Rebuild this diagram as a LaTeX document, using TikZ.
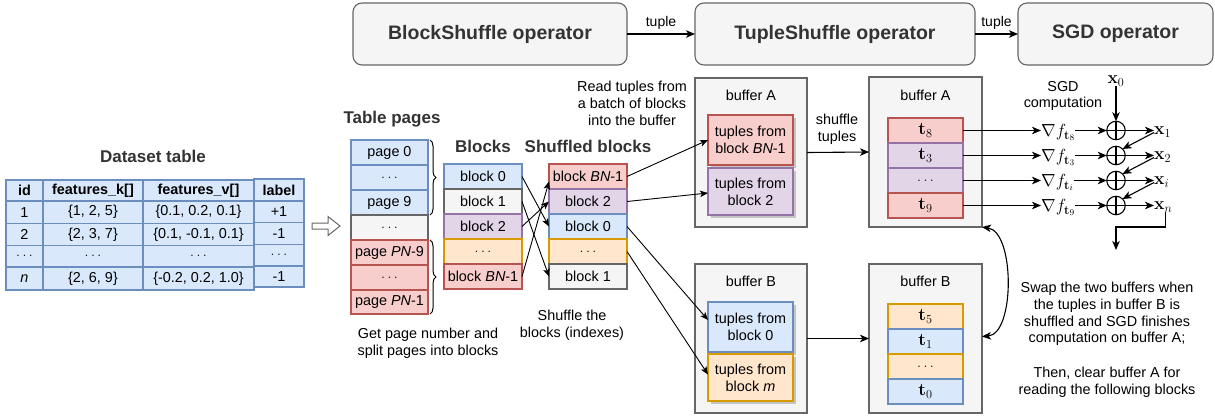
\documentclass[tikz,border=0pt]{standalone}
\usepackage{fix-cm}
\usepackage[no-math]{fontspec}
\setmainfont{Liberation Sans}
\usetikzlibrary{arrows.meta,shadows,decorations.pathreplacing}
\definecolor{bF}{HTML}{DAE8FC}\definecolor{bD}{HTML}{6C8EBF}
\definecolor{gF}{HTML}{F5F5F5}\definecolor{gD}{HTML}{666666}
\definecolor{pF}{HTML}{E1D5E7}\definecolor{pD}{HTML}{9673A6}
\definecolor{oF}{HTML}{FFE6CC}\definecolor{oD}{HTML}{D79B00}
\definecolor{rF}{HTML}{F8CECC}\definecolor{rD}{HTML}{B85450}
\definecolor{tx}{HTML}{333333}
\newcommand{\bx}[7]{\node[#6, minimum width={(#4)-(#2)}, minimum height={(#5)-(#3)}] (#1) at ({((#2)+(#4))/2},{((#3)+(#5))/2}) {#7};}
\newcommand{\dd}{$\ldots$}
\newcommand{\mm}[1]{{\fontsize{17.5}{20}\selectfont$#1$}}
\tikzset{
 cell/.style={draw, line width=1.1pt, inner sep=0pt, outer sep=0pt, align=center},
 cB/.style={cell, fill=bF, draw=bD},
 cG/.style={cell, fill=gF, draw=gD},
 cP/.style={cell, fill=pF, draw=pD},
 cO/.style={cell, fill=oF, draw=oD},
 cR/.style={cell, fill=rF, draw=rD},
 sh/.style={drop shadow={shadow xshift=2.5pt,shadow yshift=-2.5pt,fill=black,opacity=0.2}},
 op/.style={cell, rounded corners=9pt, fill=gF, draw=gD, text=tx, font=\fontsize{19.5}{22}\selectfont\bfseries},
 title/.style={text=tx, font=\fontsize{17}{20}\selectfont\bfseries, inner sep=0pt},
 note/.style={align=center, font=\fontsize{14.4}{16.8}\selectfont, inner sep=0pt},
 arr/.style={line width=1.1pt, -{Stealth[length=9pt,width=7.5pt,inset=2.5pt]}},
 tarr/.style={line width=0.9pt, -{Stealth[length=8pt,width=6.5pt,inset=2pt]}},
 darr/.style={line width=1.1pt, {Stealth[length=9pt,width=7.5pt,inset=2.5pt]}-{Stealth[length=9pt,width=7.5pt,inset=2.5pt]}},
 oplus/.style={circle, draw, line width=1.1pt, minimum size=18.5pt, inner sep=0pt, outer sep=0pt,
   path picture={\draw[line width=1.1pt] (path picture bounding box.north) -- (path picture bounding box.south)
   (path picture bounding box.west) -- (path picture bounding box.east);}},
 mlab/.style={inner sep=0pt, anchor=base west, font=\fontsize{17.5}{20}\selectfont},
}
\begin{document}
\begin{tikzpicture}[x=1pt,y=-1pt, font=\fontsize{14.4}{17}\selectfont]
\useasboundingbox (0,0) rectangle (1215,416);

% ---------- operators ----------
\bx{op1}{353}{3}{627}{65}{op}{BlockShuffle operator}
\bx{op2}{695}{3}{975}{65}{op}{TupleShuffle operator}
\bx{op3}{1018}{3}{1213}{65}{op}{SGD operator}
\draw[arr] (op1.east) -- node[above, inner sep=4pt, font=\fontsize{14}{16}\selectfont] {tuple} (op2.west);
\draw[arr] (op2.east) -- node[above, inner sep=4pt, font=\fontsize{14}{16}\selectfont] {tuple} (op3.west);

% ---------- dataset table ----------
\node[title] (dtitle) at (153,156) {Dataset table};
\bx{t00}{6}{180}{43}{201}{cB}{\bfseries id}
\bx{t01}{43}{180}{143}{201}{cB}{\bfseries features\_k[]}
\bx{t02}{143}{180}{254}{201}{cB}{\bfseries features\_v[]}
\bx{t10}{6}{201}{43}{223.5}{cB}{1}
\bx{t11}{43}{201}{143}{223.5}{cB}{\{1, 2, 5\}}
\bx{t12}{143}{201}{254}{223.5}{cB}{\{0.1, 0.2, 0.1\}}
\bx{t20}{6}{223.5}{43}{245.5}{cB}{2}
\bx{t21}{43}{223.5}{143}{245.5}{cB}{\{2, 3, 7\}}
\bx{t22}{143}{223.5}{254}{245.5}{cB}{\{0.1, -0.1, 0.1\}}
\bx{t30}{6}{245.5}{43}{267}{cB}{\dd}
\bx{t31}{43}{245.5}{143}{267}{cB}{\dd}
\bx{t32}{143}{245.5}{254}{267}{cB}{\dd}
\bx{t40}{6}{267}{43}{290}{cB}{\textit{n}}
\bx{t41}{43}{267}{143}{290}{cB}{\{2, 6, 9\}}
\bx{t42}{143}{267}{254}{290}{cB}{\{-0.2, 0.2, 1.0\}}
\bx{l0}{254}{179}{304}{201}{cB}{\bfseries label}
\bx{l1}{254}{201}{304}{222.5}{cB}{+1}
\bx{l2}{254}{222.5}{304}{244.5}{cB}{-1}
\bx{l3}{254}{244.5}{304}{266}{cB}{\dd}
\bx{l4}{254}{266}{304}{287}{cB}{-1}

% hollow arrow
\draw[draw=gD, fill=white, line width=1pt] (312,223) -- (328,223) -- (328,216.5) -- (340,226) -- (328,235.5) -- (328,229) -- (312,229) -- cycle;

% ---------- table pages ----------
\node[title] (ptitle) at (392,119) {Table pages};
\bx{p0}{351}{140}{428}{165}{cB}{page 0}
\bx{p1}{351}{165}{428}{190}{cB}{\dd}
\bx{p2}{351}{190}{428}{215}{cB}{page 9}
\bx{p3}{351}{215}{428}{240}{cG}{\dd}
\bx{p4}{351}{240}{428}{265}{cR}{page \textit{PN}-9}
\bx{p5}{351}{265}{428}{290}{cR}{\dd}
\bx{p6}{351}{290}{428}{314}{cR}{page \textit{PN}-1}
\draw[decorate, decoration={brace, amplitude=6pt}, line width=1pt] ([xshift=2pt]p0.north east) -- ([xshift=2pt]p2.south east);
\draw[decorate, decoration={brace, amplitude=6pt}, line width=1pt] ([xshift=2pt]p4.north east) -- ([xshift=2pt]p6.south east);
\node[note] (pnote) at (428,343) {Get page number and\\split pages into blocks};

% ---------- blocks ----------
\node[title] (btitle) at (483,146) {Blocks};
\bx{b0}{444}{164}{522}{189}{cB}{block 0}
\bx{b1}{444}{189}{522}{214}{cG}{block 1}
\bx{b2}{444}{214}{522}{239}{cP}{block 2}
\bx{b3}{444}{239}{522}{264}{cO}{\dd}
\bx{b4}{444}{264}{522}{289}{cR}{block \textit{BN}-1}

% ---------- shuffled blocks ----------
\node[title] (stitle) at (588,146) {Shuffled blocks};
\bx{s0}{549}{164}{627}{189}{cR}{block \textit{BN}-1}
\bx{s1}{549}{189}{627}{214}{cP}{block 2}
\bx{s2}{549}{214}{627}{239}{cB}{block 0}
\bx{s3}{549}{239}{627}{264}{cO}{\dd}
\bx{s4}{549}{264}{627}{289}{cG}{block 1}
\node[note] (snote) at (572,325) {Shuffle the\\blocks (indexes)};

\draw[tarr] (b0.east) -- (s2.west);
\draw[tarr] (b1.east) -- (s4.west);
\draw[tarr] (b2.east) -- (s1.west);
\draw[tarr] (b4.east) -- ([yshift=-5pt]s0.west);

% ---------- buffer A (read) ----------
\node[note] (rnote) at (632,103.5) {Read tuples from\\a batch of blocks\\into the buffer};
\bx{A1}{695}{78}{807}{227}{cG}{}
\node (A1t) at (751,95) {buffer A};
\bx{A1a}{708}{115}{793}{165}{cR,sh}{tuples from\\block \textit{BN}-1}
\bx{A1b}{708}{168}{793}{215}{cP,sh}{tuples from\\block 2}
\draw[tarr] (s0.east) -- (A1a.west);
\draw[tarr] (s1.east) -- ([yshift=-1.5pt]A1b.west);

% ---------- buffer B (read) ----------
\bx{B1}{695}{264}{807}{413}{cG}{}
\node (B1t) at (751,281) {buffer B};
\bx{B1a}{708}{302}{793}{352}{cB,sh}{tuples from\\block 0}
\bx{B1b}{708}{354}{793}{401}{cO,sh}{tuples from\\block \textit{m}}
\draw[tarr] (s2.east) -- ([yshift=7pt]B1a.west);
\draw[tarr] (s3.east) -- ([yshift=3pt]B1b.west);

% ---------- shuffled buffers ----------
\node[note] (tnote) at (837,129) {shuffle\\tuples};
\bx{A2}{869}{77}{982}{227}{cG}{}
\node (A2t) at (925.5,95) {buffer A};
\bx{A2a}{888}{118}{963}{143}{cR}{\mm{\mathbf{t}_8}}
\bx{A2b}{888}{143}{963}{168}{cP}{\mm{\mathbf{t}_3}}
\bx{A2c}{888}{168}{963}{193}{cP}{\dd}
\bx{A2d}{888}{193}{963}{218}{cR}{\mm{\mathbf{t}_9}}
\draw[arr] (A1.east) -- (A2.west);

\bx{B2}{869}{264}{982}{413}{cG}{}
\node (B2t) at (925.5,281) {buffer B};
\bx{B2a}{888}{304}{963}{329}{cO}{\mm{\mathbf{t}_5}}
\bx{B2b}{888}{329}{963}{354}{cB}{\mm{\mathbf{t}_1}}
\bx{B2c}{888}{354}{963}{379}{cO}{\dd}
\bx{B2d}{888}{379}{963}{404}{cB}{\mm{\mathbf{t}_0}}
\draw[arr] (B1.east) -- (B2.west);

\draw[darr] (A2.south east) .. controls (1015,232) and (1015,334) .. ([yshift=2pt]B2.east);

% ---------- SGD computation ----------
\node[note] (sgdnote) at (1063,96) {SGD\\computation};
\node[inner sep=0pt, font=\fontsize{17.5}{20}\selectfont] (xx0) at (1116,81) {$\mathbf{x}_0$};
\node[oplus] (c1) at (1116,130.5) {};
\node[oplus] (c2) at (1116,155.5) {};
\node[oplus] (c3) at (1116,180.5) {};
\node[oplus] (c4) at (1116,205.5) {};
\node[mlab] (g1) at (1041,136.5) {$\nabla f_{\mathbf{t}_8}$};
\node[mlab] (g2) at (1041,161.5) {$\nabla f_{\mathbf{t}_3}$};
\node[mlab] (g3) at (1041,186.5) {$\nabla f_{\mathbf{t}_i}$};
\node[mlab] (g4) at (1041,211.5) {$\nabla f_{\mathbf{t}_9}$};
\node[mlab] (xx1) at (1154,134.5) {$\mathbf{x}_1$};
\node[mlab] (xx2) at (1154,159.5) {$\mathbf{x}_2$};
\node[mlab] (xx3) at (1154,184.5) {$\mathbf{x}_i$};
\node[mlab] (xx4) at (1154,209.5) {$\mathbf{x}_n$};
\draw[arr] (xx0.south) -- (c1.north);
\foreach \i/\r in {1/A2a,2/A2b,3/A2c,4/A2d}{
  \draw[arr] (\r.east) -- (\r.east -| g\i.west);
  \draw[arr] (g\i.east |- c\i) -- (c\i.west);
  \coordinate (e\i) at (c\i -| xx\i.west);
  \draw[arr] (c\i.east) -- (e\i);
}
\draw[arr] ([yshift=-2pt]e1) -- (c2.45);
\draw[arr] ([yshift=-2pt]e2) -- (c3.45);
\draw[arr] ([yshift=-2pt]e3) -- (c4.45);
\coordinate (sgdturn) at (1116,227);
\coordinate (sgdout) at (1116,250);
\draw[arr] ([xshift=2pt]xx4.south) |- (sgdturn) -- (sgdout);

\node[note] (swapnote) at (1107,314) {Swap the two buffers when\\the tuples in buffer B is\\shuffled and SGD finishes\\computation on buffer A;};
\node[note] (clearnote) at (1107,382) {Then, clear buffer A for\\reading the following blocks};
\end{tikzpicture}
\end{document}
